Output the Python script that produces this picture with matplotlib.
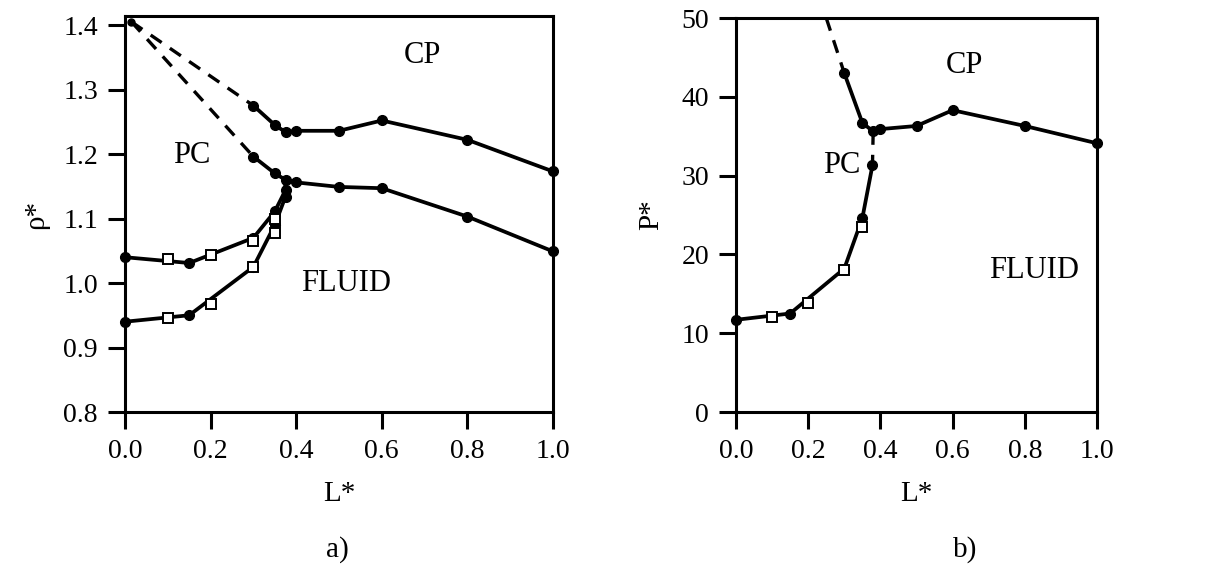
import matplotlib
matplotlib.use("Agg")
import matplotlib.pyplot as plt

plt.rcParams['font.family'] = ['Liberation Serif', 'DejaVu Serif']

# ---- panel a) density rho* vs L* ----
# CP / PC boundary (upper) and CP / fluid boundary (lower)
L_cp_hi = [0.30, 0.35, 0.375, 0.40, 0.50, 0.60, 0.80, 1.00]
rho_cp_hi = [1.275, 1.245, 1.234, 1.236, 1.236, 1.252, 1.222, 1.173]
L_cp_lo = [0.30, 0.35, 0.375, 0.40, 0.50, 0.60, 0.80, 1.00]
rho_cp_lo = [1.196, 1.170, 1.160, 1.156, 1.149, 1.147, 1.103, 1.049]
# dashed extrapolations to L*=0
L_dash_a = [0.015, 0.30]
rho_dash_hi = [1.405, 1.275]
rho_dash_lo = [1.405, 1.196]

# PC / fluid coexistence branches
L_pc = [0.0, 0.15, 0.30, 0.35, 0.375, 0.375]
rho_pc_hi = [1.040, 1.031, 1.070, 1.111, 1.144, 1.160]
rho_pc_lo = [0.940, 0.950, 1.025, 1.090, 1.134, 1.160]
# open squares (other estimates)
L_sq = [0.10, 0.20, 0.30, 0.35]
rho_sq_hi = [1.038, 1.043, 1.065, 1.100]
rho_sq_lo = [0.945, 0.968, 1.025, 1.077]

# ---- panel b) pressure P* vs L* ----
L_p_cp = [0.30, 0.35, 0.38, 0.40, 0.50, 0.60, 0.80, 1.00]
P_cp = [43.0, 36.7, 35.6, 35.9, 36.3, 38.3, 36.3, 34.1]
L_p_dash1 = [0.25, 0.30]
P_dash1 = [50.0, 43.0]
L_p_dash2 = [0.38, 0.378]
P_dash2 = [35.6, 31.3]
L_p_pc = [0.0, 0.15, 0.30, 0.35, 0.378]
P_pc = [11.7, 12.5, 18.2, 24.6, 31.3]
L_p_sq = [0.10, 0.20, 0.30, 0.35]
P_sq = [12.0, 13.8, 18.0, 23.5]

W, H = 1223, 578
fig = plt.figure(figsize=(W / 100, H / 100), dpi=100)

ax1 = fig.add_axes([125 / W, 1 - 412 / H, 428 / W, 396 / H])
ax2 = fig.add_axes([736 / W, 1 - 412 / H, 361 / W, 394 / H])

lw = 2.7
ms = 7
tick_fs = 20
lab_fs = 21


def style(ax):
    for s in ax.spines.values():
        s.set_linewidth(2.2)
    ax.tick_params(direction='out', length=12.5, width=2.2, labelsize=tick_fs,
                   top=False, right=False, pad=7)


# panel a
ax1.plot(L_dash_a, rho_dash_hi, '--', color='black', lw=2.4, dashes=(4, 3))
ax1.plot(L_dash_a, rho_dash_lo, '--', color='black', lw=2.4, dashes=(4, 3))
ax1.plot([L_dash_a[0]], [rho_dash_hi[0]], 'o', color='black', ms=5)
ax1.plot(L_cp_hi, rho_cp_hi, '-o', color='black', lw=lw, ms=ms, clip_on=False)
ax1.plot(L_cp_lo, rho_cp_lo, '-o', color='black', lw=lw, ms=ms, clip_on=False)
ax1.plot(L_pc[:-1], rho_pc_hi[:-1], 'o', color='black', ms=ms, clip_on=False)
ax1.plot(L_pc, rho_pc_hi, '-', color='black', lw=lw, clip_on=False)
ax1.plot(L_pc[:-1], rho_pc_lo[:-1], 'o', color='black', ms=ms, clip_on=False)
ax1.plot(L_pc, rho_pc_lo, '-', color='black', lw=lw, clip_on=False)
ax1.plot(L_sq, rho_sq_hi, 's', mfc='white', mec='black', mew=1.4, ms=6.5)
ax1.plot(L_sq, rho_sq_lo, 's', mfc='white', mec='black', mew=1.4, ms=6.5)

ax1.set_xlim(0, 1.0)
ax1.set_ylim(0.8, 1.414)
ax1.set_xticks([0.0, 0.2, 0.4, 0.6, 0.8, 1.0])
ax1.set_yticks([0.8, 0.9, 1.0, 1.1, 1.2, 1.3, 1.4])
ax1.xaxis.set_major_formatter(matplotlib.ticker.FormatStrFormatter('%.1f'))
ax1.yaxis.set_major_formatter(matplotlib.ticker.FormatStrFormatter('%.1f'))
style(ax1)
ax1.set_xlabel('L*', fontsize=lab_fs, labelpad=12)
ax1.set_ylabel('ρ*', fontsize=lab_fs, labelpad=10)
ax1.text(0.696, 1.353, 'CP', fontsize=22, ha='center', va='center')
ax1.text(0.157, 1.198, 'PC', fontsize=22, ha='center', va='center')
ax1.text(0.516, 1.0, 'FLUID', fontsize=22, ha='center', va='center')

# panel b
ax2.plot(L_p_dash1, P_dash1, '--', color='black', lw=2.4, dashes=(4, 3))
ax2.plot(L_p_dash2, P_dash2, '--', color='black', lw=2.4, dashes=(4, 3))
ax2.plot(L_p_cp, P_cp, '-o', color='black', lw=lw, ms=ms, clip_on=False)
ax2.plot(L_p_pc, P_pc, '-o', color='black', lw=lw, ms=ms, clip_on=False)
ax2.plot(L_p_sq, P_sq, 's', mfc='white', mec='black', mew=1.4, ms=6.5)

ax2.set_xlim(0, 1.0)
ax2.set_ylim(0, 50)
ax2.set_xticks([0.0, 0.2, 0.4, 0.6, 0.8, 1.0])
ax2.set_yticks([0, 10, 20, 30, 40, 50])
ax2.xaxis.set_major_formatter(matplotlib.ticker.FormatStrFormatter('%.1f'))
style(ax2)
ax2.set_xlabel('L*', fontsize=lab_fs, labelpad=12)
ax2.set_ylabel('P*', fontsize=lab_fs, labelpad=12)
ax2.text(0.634, 44.0, 'CP', fontsize=22, ha='center', va='center')
ax2.text(0.294, 31.3, 'PC', fontsize=22, ha='center', va='center')
ax2.text(0.825, 18.0, 'FLUID', fontsize=22, ha='center', va='center')

fig.text(337 / W, 1 - 550 / H, 'a)', fontsize=lab_fs, ha='center', va='center')
fig.text(965 / W, 1 - 550 / H, 'b)', fontsize=lab_fs, ha='center', va='center')

fig.savefig('out.png', dpi=100)
